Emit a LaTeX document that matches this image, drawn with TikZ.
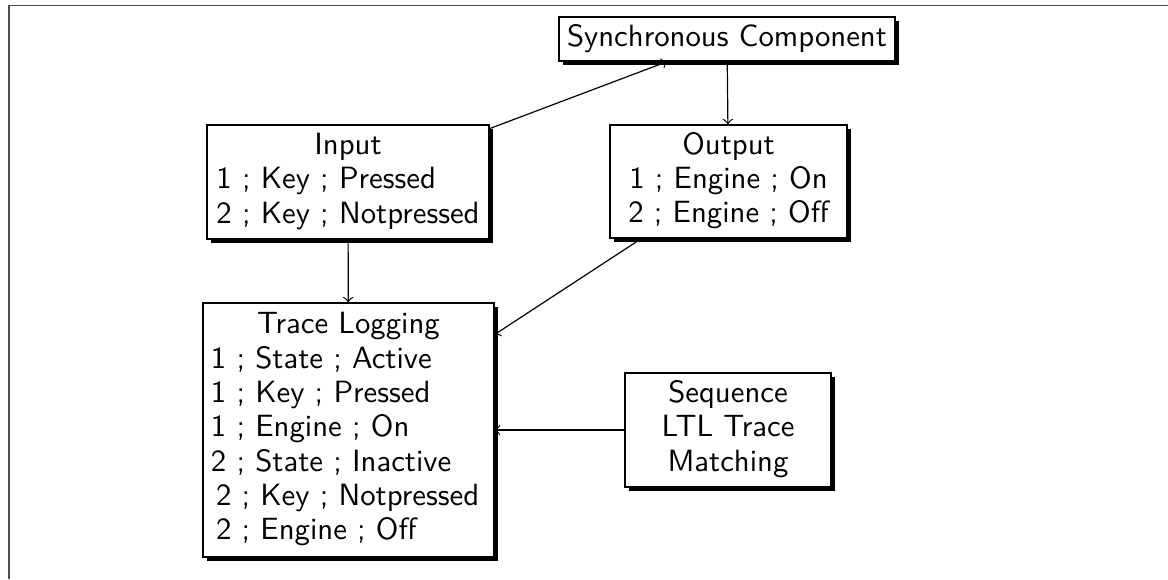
\documentclass[tikz,border=0pt]{standalone}
\usetikzlibrary{shadows}
\begin{document}
\begin{tikzpicture}[x=0.33333pt, y=-0.33333pt]
  \tikzset{
    block/.style={draw=black, line width=0.4pt, fill=white,
      font=\sffamily\fontsize{10.25}{11.45}\selectfont,
      inner xsep=0pt, inner ysep=0pt,
      drop shadow={shadow xshift=1.4pt, shadow yshift=-1.4pt,
        fill=black, opacity=1}},
    flow/.style={->, line width=0.4pt},
    frameline/.style={draw=black!70, line width=0.45pt}
  }
  \useasboundingbox (0,0) rectangle (1168,579);

  % outer frame (only its top and left edges fall inside the page)
  \draw[frameline] (9,579) -- (9,5.5) -- (1168,5.5);

  \node[block, minimum width=112pt, minimum height=14.67pt] (sync) at (727,39)
    {Synchronous Component};

  \node[block, minimum width=94pt, minimum height=38pt] (input) at (348,182)
    {\begin{tabular}{@{}l@{}}
      \multicolumn{1}{@{}c@{}}{Input}\\
      1 ; Key ; Pressed\\
      2 ; Key ; Notpressed
    \end{tabular}};

  \node[block, minimum width=79pt, minimum height=37.67pt] (output) at (728.5,181.5)
    {\begin{tabular}{@{}c@{}}
      Output\\
      1 ; Engine ; On\\
      2 ; Engine ; Off
    \end{tabular}};

  \node[block, minimum width=97pt, minimum height=84.67pt] (trace) at (348.5,430)
    {\begin{tabular}{@{}l@{\hspace{2.3pt}}}
      \multicolumn{1}{@{}c@{}}{Trace Logging}\\
      1 ; State ; Active\\
      1 ; Key ; Pressed\\
      1 ; Engine ; On\\
      2 ; State ; Inactive\\
      \hspace{1.7pt}2 ; Key ; Notpressed\\
      \hspace{1.7pt}2 ; Engine ; Off
    \end{tabular}};

  \node[block, minimum width=68.67pt, minimum height=38pt] (seq) at (728,430)
    {\begin{tabular}{@{}c@{}}
      Sequence\\
      LTL Trace\\
      Matching
    \end{tabular}};

  \draw[flow] (input) -- (sync);
  \draw[flow] (sync) -- (output);
  \draw[flow] (input) -- (trace);
  \draw[flow] (output) -- (trace);
  \draw[flow] (seq) -- (trace);
\end{tikzpicture}
\end{document}
